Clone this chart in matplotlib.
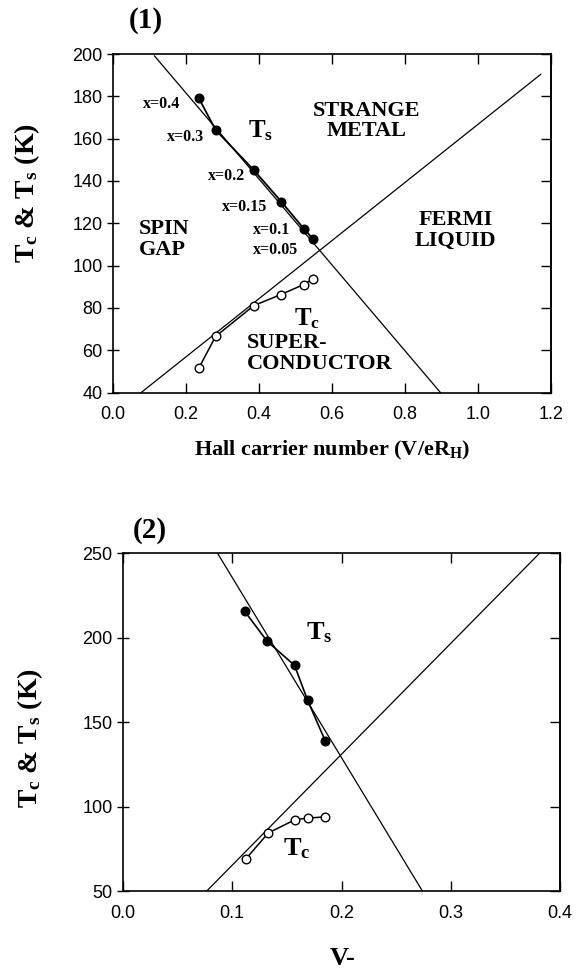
import matplotlib
matplotlib.use("Agg")
import matplotlib.pyplot as plt

plt.rcParams['mathtext.fontset'] = 'custom'
plt.rcParams['mathtext.rm'] = 'Liberation Serif:bold'
plt.rcParams['mathtext.it'] = 'Liberation Serif:bold'
plt.rcParams['mathtext.bf'] = 'Liberation Serif:bold'

# ---------------- data panel (1) ----------------
p1_hall_ts = [0.235, 0.281, 0.386, 0.461, 0.523, 0.549]
p1_ts = [179.2, 164.1, 145.1, 130.2, 117.4, 112.4]
p1_hall_tc = [0.235, 0.281, 0.386, 0.460, 0.522, 0.549]
p1_tc = [51.5, 66.5, 81.1, 86.3, 91.0, 93.8]
p1_doping = ['x=0.4', 'x=0.3', 'x=0.2', 'x=0.15', 'x=0.1', 'x=0.05']
p1_ts_line_x = [0.1136, 0.897]
p1_ts_line_y = [199.1, 40.0]
p1_tc_line_x = [0.0773, 1.172]
p1_tc_line_y = [40.0, 190.4]
p1_xticks = [0.0, 0.2, 0.4, 0.6, 0.8, 1.0, 1.2]
p1_yticks = [40, 60, 80, 100, 120, 140, 160, 180, 200]

# ---------------- data panel (2) ----------------
p2_v_ts = [0.1114, 0.132, 0.157, 0.169, 0.185]
p2_ts = [215.5, 197.8, 183.6, 162.9, 139.1]
p2_v_tc = [0.1124, 0.133, 0.1577, 0.1697, 0.185]
p2_tc = [69.1, 84.5, 92.4, 93.3, 94.0]
p2_ts_line_x = [0.0864, 0.2742]
p2_ts_line_y = [250.0, 50.0]
p2_tc_line_x = [0.0764, 0.3815]
p2_tc_line_y = [50.0, 250.0]
p2_xticks = [0.0, 0.1, 0.2, 0.3, 0.4]
p2_yticks = [50, 100, 150, 200, 250]

W, H = 586, 971
fig = plt.figure(figsize=(W / 100, H / 100), dpi=100)

serif = 'Liberation Serif'
sans = 'Liberation Sans'


def axes_px(l, t, r, b):
    return fig.add_axes([l / W, 1 - b / H, (r - l) / W, (b - t) / H])


def style(ax, xticks, yticks):
    ax.set_xticks(xticks)
    ax.set_yticks(yticks)
    ax.set_xticklabels([f"{v:.1f}" for v in xticks], fontfamily=sans, fontsize=13)
    ax.set_yticklabels([f"{v:d}" for v in yticks], fontfamily=sans, fontsize=13)
    ax.tick_params(axis='x', which='major', direction='in', length=7, width=1.0,
                   top=True, pad=10)
    ax.tick_params(axis='y', which='major', direction='inout', length=9, width=1.0,
                   pad=3, right=False)
    for sp in ax.spines.values():
        sp.set_linewidth(1.2)
    sec = ax.secondary_yaxis('right')
    sec.set_yticks(yticks)
    sec.tick_params(axis='y', direction='in', length=7, width=1.0, labelright=False)
    sec.spines['right'].set_linewidth(1.2)


# ---------------- panel (1) ----------------
ax1 = axes_px(113, 54, 551, 392.5)
ax1.set_xlim(0, 1.2)
ax1.set_ylim(40, 200)
ax1.plot(p1_ts_line_x, p1_ts_line_y, color='black', lw=0.9, zorder=2)
ax1.plot(p1_tc_line_x, p1_tc_line_y, color='black', lw=0.9, zorder=2)
ax1.plot(p1_hall_ts, p1_ts, color='black', lw=1.3, marker='o', ms=6.2,
         mfc='black', mec='black', zorder=3)
ax1.plot(p1_hall_tc, p1_tc, color='black', lw=1.1, marker='o', ms=6.2,
         mfc='white', mec='black', mew=1.0, zorder=3)
style(ax1, p1_xticks, p1_yticks)

lab_pos = [(0.132, 176.3), (0.199, 161.0), (0.312, 142.3),
           (0.361, 127.8), (0.435, 116.8), (0.446, 107.4)]
for lbl, (lx, ly) in zip(p1_doping, lab_pos):
    ax1.text(lx, ly, lbl, fontfamily=serif, fontweight='bold', fontsize=11.5,
             ha='center', va='center')

ann = dict(fontfamily=serif, fontweight='bold')
ax1.text(0.404, 160.4, r'T$_\mathrm{s}$', fontsize=18, ha='center', va='baseline', **ann)
ax1.text(0.531, 71.5, r'T$_\mathrm{c}$', fontsize=18, ha='center', va='baseline', **ann)
ax1.text(0.694, 168.3, 'STRANGE\nMETAL', fontsize=16, ha='center', va='center',
         multialignment='center', linespacing=1.05, **ann)
ax1.text(0.072, 112.4, 'SPIN\nGAP', fontsize=16, ha='left', va='center',
         multialignment='left', linespacing=1.05, **ann)
ax1.text(0.938, 116.8, 'FERMI\nLIQUID', fontsize=16, ha='center', va='center',
         multialignment='center', linespacing=1.05, **ann)
ax1.text(0.366, 58.5, 'SUPER-\nCONDUCTOR', fontsize=16, ha='left', va='center',
         multialignment='left', linespacing=1.05, **ann)

fig.text(146 / W, 1 - 20 / H, '(1)', fontsize=21, ha='center', va='center', **ann)
fig.text(27 / W, 1 - 193 / H, r'T$_\mathrm{c}$ & T$_\mathrm{s}$ (K)', fontsize=20,
         rotation=90, ha='center', va='center', **ann)
fig.text(332 / W, 1 - 450 / H, r'Hall carrier number (V/eR$_\mathrm{H}$)', fontsize=16,
         ha='center', va='center', **ann)

# ---------------- panel (2) ----------------
ax2 = axes_px(123, 553, 560, 891.3)
ax2.set_xlim(0, 0.4)
ax2.set_ylim(50, 250)
ax2.plot(p2_ts_line_x, p2_ts_line_y, color='black', lw=0.9, zorder=2)
ax2.plot(p2_tc_line_x, p2_tc_line_y, color='black', lw=0.9, zorder=2)
ax2.plot(p2_v_ts, p2_ts, color='black', lw=1.2, marker='o', ms=6.2,
         mfc='black', mec='black', zorder=3)
ax2.plot(p2_v_tc, p2_tc, color='black', lw=1.1, marker='o', ms=6.2,
         mfc='white', mec='black', mew=1.0, zorder=3)
style(ax2, p2_xticks, p2_yticks)

ax2.text(0.180, 198.8, r'T$_\mathrm{s}$', fontsize=19, ha='center', va='baseline', **ann)
ax2.text(0.1587, 71.1, r'T$_\mathrm{c}$', fontsize=19, ha='center', va='baseline', **ann)

fig.text(150 / W, 1 - 531 / H, '(2)', fontsize=21, ha='center', va='center', **ann)
fig.text(30 / W, 1 - 738 / H, r'T$_\mathrm{c}$ & T$_\mathrm{s}$ (K)', fontsize=20,
         rotation=90, ha='center', va='center', **ann)
fig.text(343 / W, 1 - 958 / H, 'V-', fontsize=19, ha='center', va='center', **ann)

fig.savefig('out.png', dpi=100)
